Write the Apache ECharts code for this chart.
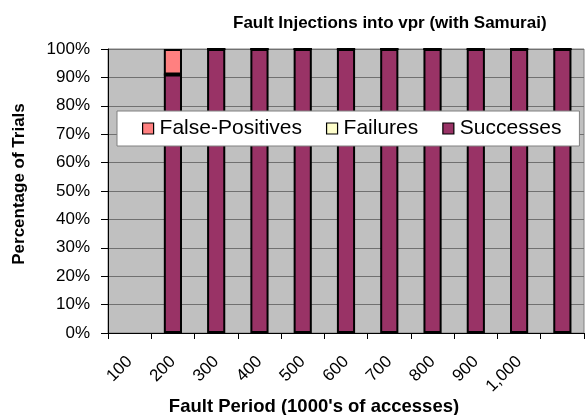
<!DOCTYPE html>
<html><head><meta charset="utf-8">
<script src="https://cdn.jsdelivr.net/npm/echarts@6/dist/echarts.min.js"></script>
<style>html,body{margin:0;padding:0;background:#fff}#c{width:586px;height:415px}</style>
</head><body><div id="c"></div>
<script>
const categories = ['100','200','300','400','500','600','700','800','900','1,000',''];
const successes = [null, 91, 100, 100, 100, 100, 100, 100, 100, 100, 100];
const failures = [null, 0, 0, 0, 0, 0, 0, 0, 0, 0, 0];
const falsePositives = [null, 9, 0, 0, 0, 0, 0, 0, 0, 0, 0];
const yTicks = [0, 10, 20, 30, 40, 50, 60, 70, 80, 90, 100];

const FONT = 'Liberation Sans, Arial, sans-serif';
const chart = echarts.init(document.getElementById('c'), null, {renderer: 'canvas'});
const barStyle = c => ({color: c, borderColor: '#000', borderWidth: 2});
chart.setOption({
  animation: false,
  backgroundColor: '#fff',
  title: {
    text: 'Fault Injections into vpr (with Samurai)',
    left: 228, top: 10,
    textStyle: {fontFamily: FONT, fontSize: 17, fontWeight: 'bold', color: '#000'}
  },
  grid: {left: 108, right: 2, top: 49, bottom: 82, containLabel: false, outerBoundsMode: 'none',
    show: true, backgroundColor: '#c0c0c0', borderColor: '#808080', borderWidth: 1},
  legend: {
    data: ['False-Positives', 'Failures', 'Successes'],
    left: 117, top: 111,
    itemWidth: 11, itemHeight: 11, itemGap: 24,
    padding: [7, 18, 7, 25],
    backgroundColor: '#fff', borderColor: '#808080', borderWidth: 1,
    icon: 'rect',
    itemStyle: {borderColor: '#000', borderWidth: 1.2},
    textStyle: {fontFamily: FONT, fontSize: 21, color: '#000', padding: [0,0,0,1]}
  },
  xAxis: {
    type: 'category', data: categories, boundaryGap: true,
    name: "Fault Period (1000's of accesses)", nameLocation: 'middle', nameGap: 64,
    nameMoveOverlap: false,
    nameTextStyle: {fontFamily: FONT, fontSize: 18.5, fontWeight: 'bold', color: '#000', padding: [0, 64, 0, 0]},
    axisLine: {lineStyle: {color: '#000', width: 1}},
    axisTick: {show: true, length: 6, alignWithLabel: false, lineStyle: {color: '#000'}},
    axisLabel: {rotate: 45, margin: 26, fontFamily: FONT, fontSize: 17, color: '#000', interval: 0},
    splitLine: {show: false}
  },
  yAxis: {
    type: 'value', min: 0, max: 100, interval: 10,
    name: 'Percentage of Trials', nameLocation: 'middle', nameGap: 80, nameRotate: 90,
    nameMoveOverlap: false,
    nameTextStyle: {fontFamily: FONT, fontSize: 17, fontWeight: 'bold', color: '#000', padding: [0, 0, 0, 14]},
    axisLine: {show: true, lineStyle: {color: '#000', width: 1}},
    axisTick: {show: true, length: 7, lineStyle: {color: '#000'}},
    axisLabel: {formatter: v => yTicks.includes(v) ? v + '%' : '', margin: 18, fontFamily: FONT, fontSize: 17, color: '#000'},
    splitLine: {show: true, lineStyle: {color: '#707070', width: 1}}
  },
  series: [
    {name: 'Successes', type: 'bar', stack: 's', data: successes, barWidth: '42%', itemStyle: barStyle('#993366')},
    {name: 'Failures', type: 'bar', stack: 's', data: failures, itemStyle: barStyle('#ffffcc')},
    {name: 'False-Positives', type: 'bar', stack: 's', data: falsePositives, itemStyle: barStyle('#ff8080')}
  ]
});
</script></body></html>
